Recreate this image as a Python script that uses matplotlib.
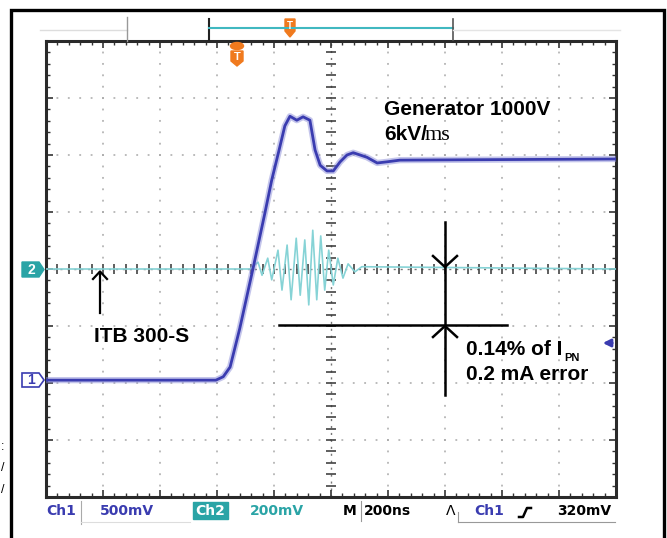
import numpy as np
import matplotlib.pyplot as plt
from matplotlib.patches import Polygon, Rectangle, Ellipse

plt.rcParams['font.family'] = ['Liberation Sans', 'DejaVu Sans']

# traces in screen divisions (10 x 8 div, 200 ns/div), centre line = 0
ch1_t = [0.00, 2.98, 3.11, 3.23, 3.40, 3.63, 3.84, 3.96, 4.09, 4.19, 4.28, 4.40, 4.51,
         4.63, 4.72, 4.81, 4.93, 5.04, 5.16, 5.28, 5.39, 5.51, 5.63, 5.81, 5.98, 6.21, 10.0]
ch1_v = [-1.95, -1.95, -1.89, -1.72, -1.04, 0.00, 0.98, 1.56, 2.09, 2.51, 2.68, 2.61, 2.67,
         2.61, 2.09, 1.82, 1.72, 1.72, 1.88, 2.00, 2.04, 2.00, 1.96, 1.86, 1.88, 1.91, 1.93]

ch2_t = [0.00, 3.58, 3.72, 3.79, 3.89, 3.96, 4.07, 4.14, 4.23, 4.30, 4.39, 4.46, 4.54,
         4.61, 4.68, 4.75, 4.82, 4.89, 4.96, 5.04, 5.12, 5.21, 5.30, 5.42, 5.54, 10.0]
ch2_v = [0.00, 0.00, 0.12, -0.11, 0.19, -0.19, 0.33, -0.37, 0.42, -0.54, 0.54, -0.46, 0.51,
         -0.63, 0.68, -0.54, 0.58, -0.37, 0.33, -0.28, 0.19, -0.16, 0.09, -0.05, 0.04, 0.00]

BLUE = '#3a3cb0'
TEAL = '#2aa4a6'
ORANGE = '#f07a1e'

W, H = 667, 538
fig = plt.figure(figsize=(W / 100, H / 100), dpi=100)

# graticule
ax = fig.add_axes([46 / W, 41 / H, 570 / W, 456 / H])
ax.set_xlim(0, 10)
ax.set_ylim(-4, 4)
ax.set_xticks(range(11))
ax.set_yticks(range(-4, 5))
ax.set_xticks(np.arange(0, 10.01, 0.2), minor=True)
ax.set_yticks(np.arange(-4, 4.01, 0.2), minor=True)
ax.tick_params(which='both', direction='in', top=True, right=True,
               labelbottom=False, labelleft=False, color='#333333')
ax.tick_params(which='major', length=5, width=1.2)
ax.tick_params(which='minor', length=3, width=1)
for s in ax.spines.values():
    s.set_color('#2a2a2a')
    s.set_linewidth(2.2)

dots = (0.6, (1.2, 6.26))
for x in range(1, 10):
    if x != 5:
        ax.axvline(x, color='#a8a8a8', lw=1.1, ls=dots, zorder=1)
for y in range(-3, 4):
    if y != 0:
        ax.axhline(y, color='#a8a8a8', lw=1.1, ls=dots, zorder=1)
ax.axvline(5, color='#777777', lw=1.0, ls=(0, (1.5, 3.5)), zorder=1)
ax.axhline(0, color='#777777', lw=1.0, ls=(0, (1.5, 3.5)), zorder=1)
yt = np.arange(-4, 4.01, 0.2)
ax.plot(np.full_like(yt, 5), yt, ls='none', marker='_', ms=7, mew=1.1, color='#333333')
xt = np.arange(0, 10.01, 0.2)
ax.plot(xt, np.zeros_like(xt), ls='none', marker='|', ms=7, mew=1.1, color='#333333')

ax.plot(ch2_t, ch2_v, color='#86d3d6', lw=1.2, zorder=3)
ax.plot(ch1_t, ch1_v, color='#8a8cd8', lw=4.5, alpha=0.5, zorder=4)
ax.plot(ch1_t, ch1_v, color=BLUE, lw=2, zorder=5)

# overlay in pixel coordinates for frame, markers and notes
ov = fig.add_axes([0, 0, 1, 1])
ov.set_xlim(0, W)
ov.set_ylim(H, 0)
ov.axis('off')
ov.set_zorder(5)

ov.plot([10.5, 10.5, 664, 664], [H, 10, 10, H], color='k', lw=2.4, solid_joinstyle='miter')

# record view bar
ov.plot([40, 127], [30, 30], color='#dddddd', lw=1)
ov.plot([127, 127], [17, 41], color='#999999', lw=1)
ov.plot([209, 209], [19, 40], color='#222222', lw=1.5)
ov.plot([209, 453], [28, 28], color='#40b8c0', lw=1.5)
ov.plot([453, 453], [19, 40], color='#555555', lw=1.2)
ov.plot([453, 620], [30, 30], color='#e4e4e4', lw=1)
ov.add_patch(Polygon([(285, 19), (295, 19), (295, 31), (290, 37), (285, 31)], color=ORANGE))
ov.text(290, 26, 'T', color='white', fontsize=7, fontweight='bold', ha='center', va='center')
ov.add_patch(Ellipse((237, 46), 13, 7, color=ORANGE))
ov.add_patch(Polygon([(231, 51), (243, 51), (243, 61), (237, 66), (231, 61)], color=ORANGE))
ov.text(237, 57.5, 'T', color='white', fontsize=8, fontweight='bold', ha='center', va='center')

# channel markers
ov.add_patch(Polygon([(22, 262), (39, 262), (44, 269.5), (39, 277), (22, 277)], color=TEAL))
ov.text(31, 270, '2', color='white', fontsize=10, fontweight='bold', ha='center', va='center')
ov.add_patch(Polygon([(22, 373), (39, 373), (44, 380), (39, 387), (22, 387)],
                     facecolor='white', edgecolor=BLUE, lw=1.2))
ov.text(31, 380.5, '1', color=BLUE, fontsize=10, fontweight='bold', ha='center', va='center')
ov.annotate('', xy=(600, 343), xytext=(615, 343),
            arrowprops=dict(arrowstyle='-|>', color=BLUE, lw=2, mutation_scale=11))

# annotations
ov.plot([100, 100], [313, 272], color='k', lw=1.6)
ov.plot([93, 100, 107], [279, 271.5, 279], color='k', lw=1.6)
ov.plot([279, 507], [325, 325], color='k', lw=1.8)
ov.plot([445, 445], [222, 395], color='k', lw=1.8)
ov.plot([433, 445, 457], [256, 267, 256], color='k', lw=1.8)
ov.plot([433, 445, 457], [337, 326, 337], color='k', lw=1.8)

bold = dict(fontsize=15, fontweight='bold', va='baseline', color='k')
ov.text(384, 115, 'Generator 1000V', **bold)
ov.text(384, 140, '6kV/', **bold)
ov.text(425, 140, 'ms', fontsize=16, family='Liberation Serif', va='baseline', color='k')
ov.text(94, 342, 'ITB 300-S', **bold)
ov.text(466, 355, '0.14% of I', **bold)
ov.text(564, 361, 'PN', fontsize=8, fontweight='bold', va='baseline', color='k')
ov.text(466, 380, '0.2 mA error', **bold)

# bits of neighbouring text at the left edge
for yy, s in [(450, ':'), (471, '/'), (493, '/')]:
    ov.text(1, yy, s, fontsize=9, ha='left', va='baseline', color='k')

# readout line
ro = dict(fontsize=10, fontweight='bold', family='DejaVu Sans', va='center')
ov.text(46, 511, 'Ch1', color=BLUE, **ro)
ov.plot([81, 81], [501, 524], color='#aaaaaa', lw=0.8)
ov.plot([81, 190], [522, 522], color='#dddddd', lw=0.8)
ov.text(100, 511, '500mV', color=BLUE, **ro)
ov.add_patch(Rectangle((193, 502), 35, 17, color=TEAL))
ov.text(210.5, 511, 'Ch2', color='white', ha='center', **ro)
ov.text(250, 511, '200mV', color=TEAL, **ro)
ov.text(343, 511, 'M', color='k', **ro)
ov.plot([361, 361], [501, 521], color='#999999', lw=0.8)
ov.text(364, 511, '200ns', color='k', **ro)
ov.text(446, 511, '\u039b', color='k', fontsize=10, family='DejaVu Sans', va='center')
ov.plot([458, 458], [512, 522], color='#999999', lw=0.8)
ov.plot([458, 615], [522, 522], color='#999999', lw=0.8)
ov.text(474, 511, 'Ch1', color=BLUE, **ro)
ov.plot([519, 523, 527, 531], [517, 517, 508, 508], color='k', lw=1.8)
ov.text(557, 511, '320mV', color='k', **ro)

fig.savefig('out.png', dpi=100)
